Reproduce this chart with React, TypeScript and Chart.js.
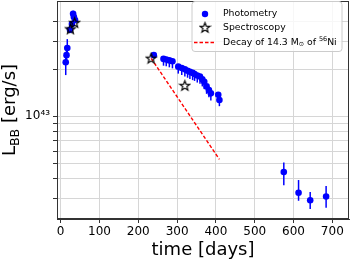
import { useEffect, useRef } from 'react';
import { Chart, registerables } from 'chart.js';
Chart.register(...registerables);

const E = 1e43;
// Photometry (days, L in 1e43 erg/s, lower/upper error in 1e43)
const photDays = [13, 15, 17, 24, 29, 32, 34, 37, 240, 265, 272, 280, 288, 303, 312, 320, 327, 333, 340, 345, 352, 359, 365, 370, 376, 382, 387, 406, 409, 575, 613, 643, 684];
const photLum = [2.21, 2.45, 2.72, 3.55, 3.87, 4.5, 4.28, 4.1, 2.45, 2.32, 2.3, 2.27, 2.24, 2.07, 2.03, 1.99, 1.95, 1.92, 1.89, 1.86, 1.82, 1.79, 1.72, 1.66, 1.55, 1.47, 1.4, 1.37, 1.27, 0.442, 0.326, 0.292, 0.309];
const photErrLo = [0.38, 0.3, 0.35, 0.15, 0.15, 0.2, 0.2, 0.18, 0.08, 0.22, 0.22, 0.22, 0.22, 0.2, 0.2, 0.2, 0.19, 0.19, 0.19, 0.18, 0.18, 0.18, 0.17, 0.17, 0.16, 0.15, 0.14, 0.13, 0.11, 0.078, 0.036, 0.035, 0.047];
const photErrHi = [0.32, 0.3, 0.38, 0.15, 0.15, 0.2, 0.2, 0.18, 0.05, 0.03, 0.03, 0.03, 0.03, 0.03, 0.03, 0.03, 0.03, 0.03, 0.03, 0.03, 0.03, 0.03, 0.03, 0.03, 0.03, 0.03, 0.03, 0.05, 0.05, 0.067, 0.067, 0.038, 0.051];
// Spectroscopy epochs
const specDays = [25, 36, 233, 320];
const specLum = [3.6, 3.95, 2.34, 1.57];
// 56Ni decay line
const decayDays = [233, 409];
const decayLum = [2.34, 0.532];
// axes
const xTicks = [0, 100, 200, 300, 400, 500, 600, 700];
const yTicks = [0.3, 0.4, 0.5, 0.6, 0.7, 0.8, 0.9, 1, 2, 3, 4];
const FONT = "'DejaVu Sans', sans-serif";

function makeStar(): HTMLCanvasElement {
  const c = document.createElement('canvas');
  c.width = 13; c.height = 13;
  const g = c.getContext('2d')!;
  g.beginPath();
  for (let i = 0; i < 10; i++) {
    const r = i % 2 === 0 ? 5.2 : 2.2;
    const a = -Math.PI / 2 + (i * Math.PI) / 5;
    const px = 6.5 + r * Math.cos(a);
    const py = 6.9 + r * Math.sin(a);
    if (i === 0) g.moveTo(px, py); else g.lineTo(px, py);
  }
  g.closePath();
  g.strokeStyle = '#000';
  g.lineWidth = 1.2;
  g.lineJoin = 'miter';
  g.stroke();
  return c;
}

export default function App() {
  const ref = useRef<HTMLCanvasElement>(null);
  useEffect(() => {
    const star = makeStar();
    const errorBars = {
      id: 'errorBars',
      beforeDatasetsDraw(chart: any) {
        const { ctx, scales, chartArea } = chart;
        const x = scales.x, y = scales.y;
        ctx.save();
        ctx.beginPath();
        ctx.rect(chartArea.left, chartArea.top, chartArea.right - chartArea.left, chartArea.bottom - chartArea.top);
        ctx.clip();
        ctx.strokeStyle = '#0000ff';
        ctx.lineWidth = 1.5;
        photDays.forEach((d, i) => {
          const px = x.getPixelForValue(d);
          const y1 = y.getPixelForValue((photLum[i] - photErrLo[i]) * E);
          const y2 = y.getPixelForValue((photLum[i] + photErrHi[i]) * E);
          ctx.beginPath();
          ctx.moveTo(px, y1);
          ctx.lineTo(px, y2);
          ctx.stroke();
        });
        ctx.restore();
      },
    };
    const decor = {
      id: 'decor',
      afterDraw(chart: any) {
        const { ctx, chartArea: a } = chart;
        ctx.save();
        // frame
        ctx.strokeStyle = '#333';
        ctx.lineWidth = 1;
        ctx.strokeRect(a.left + 0.5, a.top + 0.5, a.right - a.left - 1, a.bottom - a.top - 1);
        // legend
        const bx = 192, by = 1.5, bw = 150, bh = 50, r = 3;
        ctx.beginPath();
        ctx.moveTo(bx + r, by);
        ctx.lineTo(bx + bw - r, by);
        ctx.quadraticCurveTo(bx + bw, by, bx + bw, by + r);
        ctx.lineTo(bx + bw, by + bh - r);
        ctx.quadraticCurveTo(bx + bw, by + bh, bx + bw - r, by + bh);
        ctx.lineTo(bx + r, by + bh);
        ctx.quadraticCurveTo(bx, by + bh, bx, by + bh - r);
        ctx.lineTo(bx, by + r);
        ctx.quadraticCurveTo(bx, by, bx + r, by);
        ctx.closePath();
        ctx.fillStyle = 'rgba(255,255,255,0.8)';
        ctx.fill();
        ctx.strokeStyle = '#cccccc';
        ctx.stroke();
        const mx = 205, tx = 223;
        const rows = [14, 27.5, 42.5];
        ctx.fillStyle = '#0000ff';
        ctx.beginPath();
        ctx.arc(mx, rows[0], 3.2, 0, Math.PI * 2);
        ctx.fill();
        ctx.drawImage(star, mx - 6.5, rows[1] - 6.5);
        ctx.strokeStyle = '#ff0000';
        ctx.lineWidth = 1.4;
        ctx.setLineDash([3.5, 2]);
        ctx.beginPath();
        ctx.moveTo(194, rows[2]);
        ctx.lineTo(215, rows[2]);
        ctx.stroke();
        ctx.setLineDash([]);
        ctx.fillStyle = '#000';
        ctx.textBaseline = 'middle';
        ctx.textAlign = 'left';
        const fs = 9.3;
        ctx.font = `${fs}px ${FONT}`;
        ctx.fillText('Photometry', tx, rows[0]);
        ctx.fillText('Spectroscopy', tx, rows[1]);
        let cx = tx;
        const put = (s: string, size: number, dy: number) => {
          ctx.font = `${size}px ${FONT}`;
          ctx.fillText(s, cx, rows[2] + dy);
          cx += ctx.measureText(s).width;
        };
        put('Decay of 14.3 M', fs, 0);
        put('⊙', 6.3, 2);
        put(' of ', fs, 0);
        put('56', 6.5, -3);
        put('Ni', fs, 0);
        // x title
        ctx.font = `18px ${FONT}`;
        ctx.textAlign = 'center';
        ctx.textBaseline = 'alphabetic';
        ctx.fillText('time [days]', (a.left + a.right) / 2, 255);
        // y title
        ctx.translate(15, (a.top + a.bottom) / 2);
        ctx.rotate(-Math.PI / 2);
        ctx.font = `18px ${FONT}`;
        const w1 = ctx.measureText('L').width;
        ctx.font = `12.6px ${FONT}`;
        const w2 = ctx.measureText('BB').width;
        ctx.font = `18px ${FONT}`;
        const w3 = ctx.measureText(' [erg/s]').width;
        let sx = -(w1 + w2 + w3) / 2;
        ctx.textAlign = 'left';
        ctx.fillText('L', sx, 0); sx += w1;
        ctx.font = `12.6px ${FONT}`;
        ctx.fillText('BB', sx, 3.6); sx += w2;
        ctx.font = `18px ${FONT}`;
        ctx.fillText(' [erg/s]', sx, 0);
        ctx.restore();
      },
    };
    const chart = new Chart(ref.current!, {
      type: 'scatter',
      data: {
        datasets: [
          {
            label: 'Spectroscopy',
            data: specDays.map((d, i) => ({ x: d, y: specLum[i] * E })),
            pointStyle: star as any,
            pointRadius: 6,
            order: 0,
          },
          {
            label: 'Photometry',
            data: photDays.map((d, i) => ({ x: d, y: photLum[i] * E })),
            backgroundColor: '#0000ff',
            borderColor: '#0000ff',
            pointRadius: 3.3,
            pointBorderWidth: 0,
            order: 1,
          },
          {
            label: 'Decay',
            data: decayDays.map((d, i) => ({ x: d, y: decayLum[i] * E })),
            showLine: true,
            borderColor: '#ff0000',
            borderWidth: 1.4,
            borderDash: [3.5, 2],
            pointRadius: 0,
            order: 2,
          } as any,
        ],
      },
      options: {
        animation: false,
        responsive: false,
        events: [],
        layout: { autoPadding: false, padding: { left: 0, right: 1, top: 1, bottom: 0 } },
        plugins: { legend: { display: false }, tooltip: { enabled: false } },
        scales: {
          x: {
            type: 'linear',
            min: -9.5,
            max: 743,
            afterBuildTicks: (s: any) => { s.ticks = xTicks.map((v) => ({ value: v })); },
            afterFit: (s: any) => { s.height = 40; s.paddingLeft = 0; s.paddingRight = 0; },
            grid: { color: '#d6d6d6', tickColor: '#333', tickLength: 4 },
            border: { color: '#333' },
            ticks: { font: { family: FONT, size: 12 }, color: '#000', padding: 2, maxRotation: 0, autoSkip: false },
          },
          y: {
            type: 'logarithmic',
            min: 2.22e42,
            max: 5.42e43,
            afterBuildTicks: (s: any) => { s.ticks = yTicks.map((v) => ({ value: v * E })); },
            afterFit: (s: any) => { s.width = 57; s.paddingTop = 0; s.paddingBottom = 0; },
            grid: { color: '#d6d6d6', tickColor: '#333', tickLength: 4 },
            border: { color: '#333' },
            ticks: {
              font: { family: FONT, size: 12 },
              color: '#000',
              padding: 3,
              autoSkip: false,
              callback: (v: any) => (v === 1e43 ? '10⁴³' : ''),
            },
          },
        },
      },
      plugins: [errorBars, decor],
    });
    return () => chart.destroy();
  }, []);
  return (
    <div style={{ position: 'absolute', left: 0, top: 0, width: 350, height: 259 }}>
      <canvas ref={ref} width={350} height={259} />
    </div>
  );
}
